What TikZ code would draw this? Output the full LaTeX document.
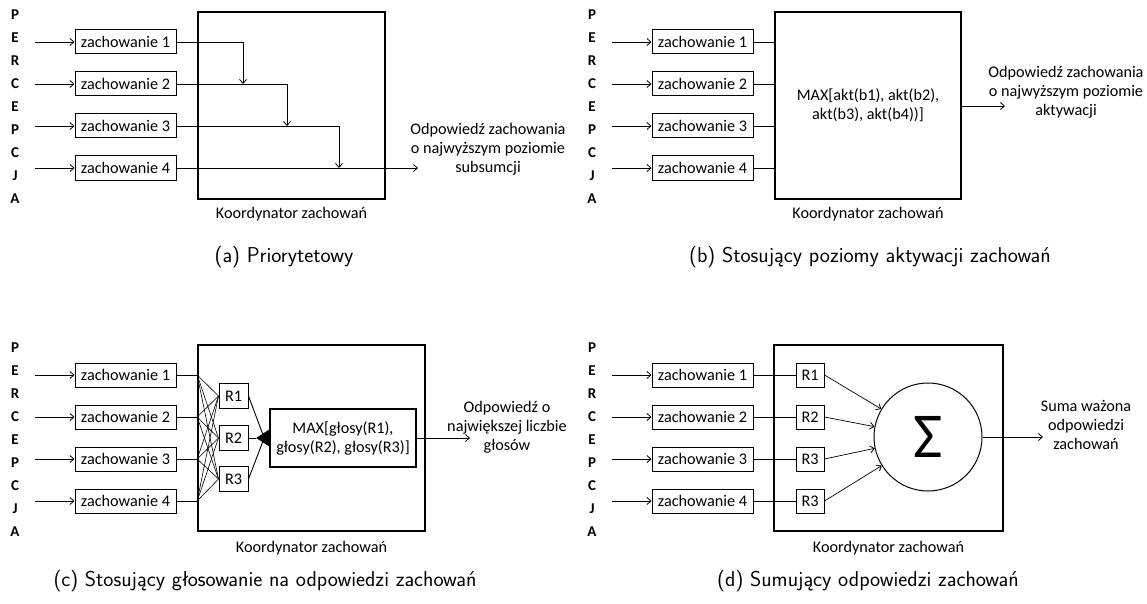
\documentclass[tikz,border=0pt]{standalone}
\usepackage{fontspec}
\setmainfont{Carlito}
\usetikzlibrary{arrows.meta,calc}

\tikzset{
  txt/.style={font=\fontsize{16.2}{19}\selectfont},
  letter/.style={font=\bfseries\fontsize{15}{16}\selectfont, inner sep=0pt},
  zbox/.style={draw, line width=1pt, minimum width=101pt, minimum height=24pt,
               inner sep=0pt, txt},
  rbox/.style={draw, line width=1pt, minimum width=29pt, minimum height=25pt,
               inner sep=0pt, txt},
  coordbox/.style={draw, line width=1.6pt, inner sep=0pt},
  conn/.style={line width=0.9pt},
  arr/.style={conn, -{Straight Barb[length=4pt,width=7pt,line width=0.8pt]}},
  caption/.style={font=\sffamily\fontsize{21.5}{24}\selectfont},
}

% letter column, incoming arrows and the four behaviour boxes
\newcommand\behaviourcolumn[1]{%
  \foreach \ch [count=\i from 0] in {P,E,R,C,E,P,C,J,A}
    \node[letter] (#1-l\i) at (15,{15+23*\i}) {\ch};
  \foreach \k/\y in {1/42,2/84,3/126,4/168} {
    \coordinate (#1-in\k) at (35,\y);
    \node[zbox] (#1-z\k) at (125.5,\y) {zachowanie \k};
    \draw[arr] (#1-in\k) -- (#1-z\k.west);
  }%
}

\begin{document}
\begin{tikzpicture}[x=1pt,y=-1pt]
\useasboundingbox (0,0) rectangle (1147,604);

% ---------------- (a) priority ----------------
\begin{scope}
  \behaviourcolumn{a}
  \node[coordbox, minimum width=187pt, minimum height=187pt] (a-k) at (291.5,105.5) {};
  \node[txt] (a-kl) at (291.5,214) {Koordynator zachowań};
  \coordinate (a-d1) at (243,84);
  \coordinate (a-d2) at (287,126);
  \coordinate (a-d3) at (339,168);
  \coordinate (a-out) at (418,168);
  \draw[arr] (a-z1.east) -| (a-d1);
  \draw[arr] (a-z2.east) -| (a-d2);
  \draw[arr] (a-z3.east) -| (a-d3);
  \draw[arr] (a-z4.east) -- (a-out);
  \node[txt, align=center] (a-res) at (488,149)
    {Odpowiedź zachowania\\o najwyższym poziomie\\subsumcji};
  \node[caption] (a-cap) at (284,257) {(a) Priorytetowy};
\end{scope}

% ---------------- (b) activation levels ----------------
\begin{scope}[shift={(577,0)}]
  \behaviourcolumn{b}
  \node[coordbox, minimum width=186pt, minimum height=187pt] (b-k) at (291,105.5) {};
  \node[txt] (b-kl) at (291,214) {Koordynator zachowań};
  \foreach \k in {1,...,4}
    \draw[conn] (b-z\k.east) -- (b-z\k.east -| b-k.west);
  \node[txt, align=center] (b-max) at (b-k.center)
    {MAX[akt(b1), akt(b2),\\akt(b3), akt(b4))]};
  \coordinate (b-out) at (428,106);
  \draw[arr] (b-k.east |- b-out) -- (b-out);
  \node[txt, align=center] (b-res) at (489,92)
    {Odpowiedź zachowania\\o najwyższym poziomie\\aktywacji};
  \node[caption] (b-cap) at (293,257) {(b) Stosujący poziomy aktywacji zachowań};
\end{scope}

% ---------------- (c) voting ----------------
\begin{scope}[shift={(0,333)}]
  \behaviourcolumn{c}
  \node[coordbox, minimum width=227pt, minimum height=186pt] (c-k) at (311.5,105) {};
  \node[txt] (c-kl) at (311.5,215) {Koordynator zachowań};
  \node[rbox] (c-r1) at (233.5,63) {R1};
  \node[rbox] (c-r2) at (233.5,105) {R2};
  \node[rbox] (c-r3) at (233.5,146) {R3};
  \node[coordbox, minimum width=146pt, minimum height=58pt, txt, align=center]
    (c-max) at (343,105) {MAX[głosy(R1),\\głosy(R2), głosy(R3)]};
  \foreach \k in {1,...,4} {
    \coordinate (c-p\k) at (c-z\k.east -| c-k.west);
    \draw[conn] (c-z\k.east) -- (c-p\k);
    \foreach \j in {1,2,3}
      \draw[line width=0.6pt] (c-p\k) -- (c-r\j.west);
  }
  \coordinate (c-tip) at ($(c-max.west)+(-13,0)$);
  \coordinate (c-j) at ($(c-max.west)+(-5,0)$);
  \draw[conn] (c-r1.east) -- (c-j);
  \draw[conn] (c-r3.east) -- (c-j);
  \draw[conn] (c-r2.east) -- (c-tip);
  \fill (c-tip) -- ($(c-max.west)+(0,-8.5)$) -- ($(c-max.west)+(0,8.5)$) -- cycle;
  \coordinate (c-out) at (470,105);
  \draw[arr] (c-max.east) -- (c-out);
  \node[txt, align=center] (c-res) at (507,94)
    {Odpowiedź o\\największej liczbie\\głosów};
  \node[caption] (c-cap) at (265,248) {(c) Stosujący głosowanie na odpowiedzi zachowań};
\end{scope}

% ---------------- (d) summation ----------------
\begin{scope}[shift={(577,333)}]
  \behaviourcolumn{d}
  \node[coordbox, minimum width=229pt, minimum height=186pt] (d-k) at (311.5,105) {};
  \node[txt] (d-kl) at (311.5,215) {Koordynator zachowań};
  \node[rbox, minimum width=28pt, minimum height=24pt] (d-r1) at (233,42) {R1};
  \node[rbox, minimum width=28pt, minimum height=24pt] (d-r2) at (233,84) {R2};
  \node[rbox, minimum width=28pt, minimum height=24pt] (d-r3) at (233,126) {R3};
  \node[rbox, minimum width=28pt, minimum height=24pt] (d-r4) at (233,168) {R3};
  \node[draw, circle, line width=1pt, minimum size=108pt, inner sep=0pt,
        font=\fontsize{64}{64}\selectfont] (d-sum) at (351,104) {Σ};
  \foreach \k in {1,...,4} {
    \draw[conn] (d-z\k.east) -- (d-r\k.west);
    \draw[arr, line width=0.7pt] (d-r\k.east) -- (d-sum);
  }
  \coordinate (d-out) at (466,104);
  \draw[arr] (d-sum.east) -- (d-out);
  \node[txt, align=center] (d-res) at (509,92)
    {Suma ważona\\odpowiedzi\\zachowań};
  \node[caption] (d-cap) at (291,248) {(d) Sumujący odpowiedzi zachowań};
\end{scope}
\end{tikzpicture}
\end{document}
